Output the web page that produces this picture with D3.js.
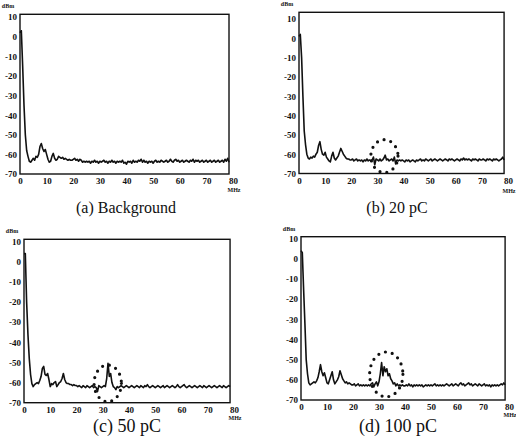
<!DOCTYPE html>
<html>
<head>
<meta charset="utf-8">
<script src="https://cdn.jsdelivr.net/npm/d3@7"></script>
<style>
  body { margin: 0; background: #fff; }
  svg { display: block; }
  .tick text { font-family: "Liberation Serif", "Times New Roman", "DejaVu Serif", serif; font-weight: bold; font-size: 9px; fill: #111; }
  .caption { font-family: "Liberation Serif", "Times New Roman", "DejaVu Serif", serif; fill: #111; }
  .unit { font-family: "Liberation Serif", "Times New Roman", "DejaVu Serif", serif; font-weight: bold; font-size: 6px; fill: #111; }
</style>
</head>
<body>
<svg id="chart" width="516" height="436"></svg>
<script>

// spectrum sampled every 0.5 MHz from 0 to 78.5 MHz
var freqMHz = d3.range(0, 78.51, 0.5);

var yTicks = [10, 0, -10, -20, -30, -40, -50, -60, -70];
var xTicks = [0, 10, 20, 30, 40, 50, 60, 70, 80];

var captions = ["(a) Background", "(b) 20 pC", "(c) 50 pC", "(d) 100 pC"];

// dBm values
var dbmBackground = [
  2, 3, -15, -35, -50, -58, -61, -63.5, -64, -63, -62, -63, -61, -61.5, -60, -56, -54.5, -57, -58.5, -57.5,
  -60, -62.5, -64, -63.5, -61, -59.5, -62, -63, -62.5, -61, -61.5, -62, -61.5, -62.5, -62, -62.5, -63, -62.5, -63, -63,
  -62.5, -62, -63, -62.5, -63.5, -62.5, -63, -64, -63.5, -64,
  -63.5, -64, -63.5, -64.5, -63.5, -64, -63, -64, -63.5, -64.5,
  -63.5, -64, -63.5, -63, -64, -63.5, -64.5, -63.5, -64, -63,
  -64, -63.5, -64.5, -63.5, -64, -63.5, -64, -63, -64.5, -64,
  -65, -63.5, -64, -63.5, -64.5, -63, -64, -63.5, -64, -63,
  -63.5, -62.5, -64, -63, -64, -63.5, -64.5, -63.5, -64, -63.5,
  -64.5, -63.5, -63, -64, -63.5, -64, -63, -63.5, -64, -63.5,
  -63, -64, -63.5, -62.5, -63.5, -64, -63, -62.5, -63.5, -63,
  -64, -63.5, -63, -64, -63.5, -63, -63.5, -64, -63, -63.5,
  -62.5, -64, -63, -63.5, -63, -64, -63.5, -63, -64, -63.5,
  -63, -64, -63.5, -63, -64, -63.5, -63, -64, -63.5, -63,
  -64, -63.5, -63, -64, -62.5, -63.5, -62, -64
];

var dbm20pC = [
  1, 2, -10, -30, -48, -55, -60, -62, -62.5, -61.5, -62, -61, -61.5, -60, -59, -55.5, -53.5, -57.5, -60, -60.5,
  -59, -61.5, -62.5, -63.5, -64, -61, -59, -62, -63, -62, -61, -59, -57, -58.5, -60, -61, -62, -62.5, -62.5, -63,
  -63, -62.5, -63.5, -63, -62.5, -63.5, -63, -63.5, -63, -64,
  -63, -63.5, -62.5, -63.5, -63, -63.5, -63, -61.5, -65.5, -62.5,
  -63, -63.5, -62.5, -63.5, -63, -62, -60.5, -63, -62.5, -63.5,
  -63, -62.5, -63.5, -61.5, -65, -63, -63.5, -63, -63.5, -63,
  -63.5, -64, -63, -63.5, -63, -64, -63.5, -63, -63.5, -64,
  -63, -63.5, -63, -62.5, -63.5, -63, -63.5, -62.5, -63, -63.5,
  -63, -62.5, -63.5, -63, -62.5, -63, -63.5, -63, -62.5, -63,
  -63.5, -63, -62.5, -63, -63.5, -62.5, -63, -62.5, -63, -63.5,
  -63, -62.5, -63, -63.5, -62.5, -63, -62, -63, -62.5, -63,
  -62.5, -63, -63.5, -62.5, -63, -62.5, -63, -63.5, -62.5, -63,
  -63, -62.5, -63, -63.5, -62.5, -63, -62.5, -63, -63.5, -62.5,
  -63, -62.5, -63, -63.5, -63, -62.5, -61.5, -63
];

var dbm50pC = [
  4, 4, -20, -36, -48, -56, -60.5, -62, -61, -60.5, -60, -60.5, -59, -57, -53, -52, -56, -56.5, -55.5, -58.5,
  -62, -60.5, -61, -60, -59.5, -62, -61, -60, -59.5, -58, -55.5, -58.5, -60, -60.5, -60.5, -61, -61, -61.5, -61, -61.5,
  -61.5, -62, -61.5, -62, -62.5, -61.5, -62, -62.5, -61.5, -62,
  -62.5, -62, -61.5, -62.5, -62, -62.5, -64.5, -61.5, -62, -62.5,
  -62, -61.5, -62, -58, -50.5, -57, -55.5, -60, -62, -62.5,
  -63.5, -62, -62.5, -62, -61.5, -62, -62.5, -62, -61.5, -62,
  -62.5, -62, -61.5, -62, -62.5, -62, -61.5, -62, -62.5, -61.5,
  -62, -62.5, -61.5, -62, -61, -62, -62.5, -62, -61.5, -62,
  -62.5, -62, -61.5, -62, -62.5, -62, -61.5, -62.5, -62, -61.5,
  -62, -62.5, -62, -61.5, -62, -62.5, -62, -61, -62, -62.5,
  -62, -61.5, -61, -62, -62.5, -62, -61.5, -62, -62.5, -62,
  -61.5, -62, -62.5, -62, -61.5, -62, -62.5, -61.5, -62, -62.5,
  -62, -61.5, -62, -62.5, -62, -61.5, -62, -62.5, -62, -61.5,
  -62, -62.5, -61.5, -62, -62.5, -62, -61.5, -62
];

var dbm100pC = [
  4, 3, -15, -32, -50, -57, -61.5, -62.5, -62, -61.5, -61, -61.5, -60.5, -59, -56, -52.5, -56, -58, -56.5, -59,
  -61.5, -62, -60, -58, -56, -60, -62, -61, -60, -58.5, -55.5, -57.5, -59.5, -60.5, -61.5, -61, -62, -61.5, -62, -62.5,
  -62.5, -62, -63, -62.5, -62, -63, -62.5, -63, -62.5, -63,
  -62.5, -63, -62.5, -63, -62, -61.5, -63.5, -62, -61, -63,
  -61, -57, -51.5, -58, -53.5, -56, -54.5, -58, -57, -59.5,
  -60.5, -62, -61.5, -63, -62, -63, -62.5, -63, -62.5, -63,
  -63, -62.5, -63, -62, -63, -62.5, -63.5, -62.5, -63, -62.5,
  -63, -62.5, -63, -62.5, -63.5, -63, -62.5, -63, -62.5, -63,
  -62.5, -63, -62.5, -62, -63, -62.5, -63, -62.5, -63, -62.5,
  -63, -62.5, -62, -62.5, -63, -62.5, -62, -63, -62.5, -62,
  -62.5, -63, -62, -61.5, -62.5, -62, -63, -62.5, -62, -61.5,
  -62.5, -62, -63, -62.5, -62, -62.5, -63, -62, -62.5, -63,
  -62.5, -62, -63, -62.5, -63, -62.5, -63.5, -62.5, -63, -62.5,
  -63, -62.5, -63, -62.5, -62, -62.5, -61.5, -62.5
];

// dotted rings round the discharge signal (centre MHz / dBm, half width MHz, half height dB)
var ringCenterMHz = [null, 32.7, 31.9, 32.8];
var ringCenterDbm = [null, -61, -60.4, -57.3];
var ringHalfMHz = [null, 5.2, 5.2, 6.4];
var ringHalfDb = [null, 8.5, 9.1, 11.1];

var series = [dbmBackground, dbm20pC, dbm50pC, dbm100pC];

// where each scanned panel sits on the page
var layout = [
  { x0: 20,  x80: 233, y10: 17,    y70: 174,   top: 14.3,  capX: 126, capY: 213, capSize: 16, unitDy: 18 },
  { x0: 299, x80: 508, y10: 19,    y70: 173.5, top: 12.3,  capX: 397, capY: 213, capSize: 16, unitDy: 19 },
  { x0: 24,  x80: 234, y10: 241.5, y70: 402.7, top: 239.3, capX: 127, capY: 432, capSize: 18, unitDy: 17 },
  { x0: 301, x80: 509, y10: 238.5, y70: 400,   top: 236.7, capX: 398, capY: 432, capSize: 18, unitDy: 17 }
];

var svg = d3.select("#chart");

layout.forEach(function(p, i) {
  var x = d3.scaleLinear().domain([0, 80]).range([p.x0, p.x80]);
  var y = d3.scaleLinear().domain([-70, 10]).range([p.y70, p.y10]);

  var g = svg.append("g").attr("class", "panel");

  // frame
  var right = x(78.5);
  g.append("rect")
    .attr("x", p.x0)
    .attr("y", p.top)
    .attr("width", right - p.x0)
    .attr("height", p.y70 - p.top)
    .attr("fill", "none")
    .attr("stroke", "#111")
    .attr("stroke-width", 1.4);

  // axes, labels only
  var yAxis = d3.axisLeft(y).tickValues(yTicks).tickSize(0).tickPadding(3)
    .tickFormat(function(d) { return String(d); });
  var xAxis = d3.axisBottom(x).tickValues(xTicks).tickSize(0).tickPadding(4)
    .tickFormat(function(d) { return String(d); });

  g.append("g").attr("transform", "translate(" + p.x0 + ",0)").call(yAxis)
    .call(function(a) { a.select(".domain").remove(); });
  g.append("g").attr("transform", "translate(0," + p.y70 + ")").call(xAxis)
    .call(function(a) { a.select(".domain").remove(); });

  g.append("text").attr("class", "unit")
    .attr("x", p.x0 - 12).attr("y", p.top - 6)
    .attr("text-anchor", "middle")
    .text("dBm");
  g.append("text").attr("class", "unit")
    .attr("x", x(80) + 1).attr("y", p.y70 + p.unitDy)
    .attr("text-anchor", "middle")
    .text("MHz");

  // spectrum trace
  var line = d3.line()
    .x(function(d, k) { return x(freqMHz[k]); })
    .y(function(d) { return y(d); });

  g.append("path")
    .datum(series[i])
    .attr("d", line)
    .attr("fill", "none")
    .attr("stroke", "#111")
    .attr("stroke-width", 1.6)
    .attr("stroke-linejoin", "round");

  // dotted ring
  if (ringCenterMHz[i] !== null) {
    var cx = x(ringCenterMHz[i]);
    var cy = y(ringCenterDbm[i]);
    g.append("ellipse")
      .attr("cx", cx)
      .attr("cy", cy)
      .attr("rx", x(ringCenterMHz[i] + ringHalfMHz[i]) - cx)
      .attr("ry", cy - y(ringCenterDbm[i] + ringHalfDb[i]))
      .attr("fill", "none")
      .attr("stroke", "#111")
      .attr("stroke-width", 3.2)
      .attr("stroke-linecap", "round")
      .attr("stroke-dasharray", "0 7");
  }

  // caption
  g.append("text").attr("class", "caption")
    .attr("x", p.capX).attr("y", p.capY)
    .attr("text-anchor", "middle")
    .style("font-size", p.capSize + "px")
    .text(captions[i]);
});

</script>
</body>
</html>
